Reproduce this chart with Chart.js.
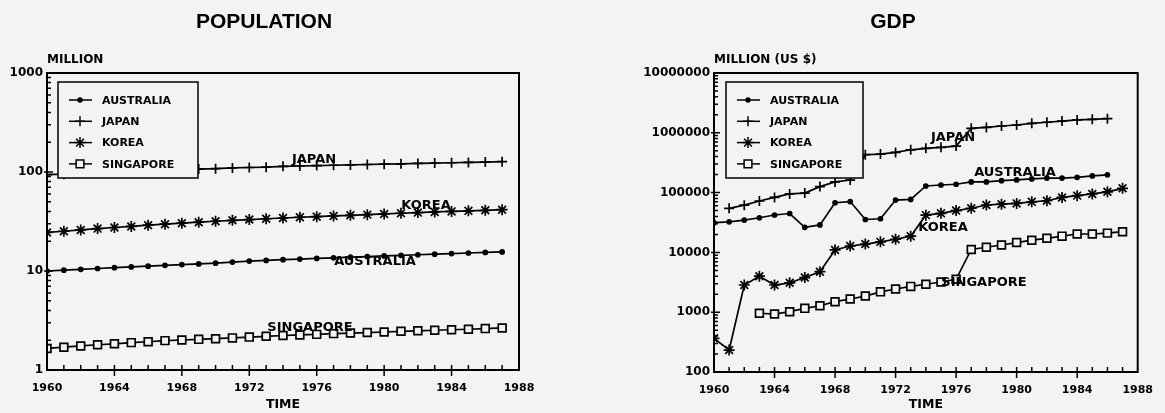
<!DOCTYPE html>
<html>
<head>
<meta charset="utf-8">
<script src="https://cdn.jsdelivr.net/npm/chart.js@4.4.1/dist/chart.umd.min.js"></script>
<style>
  html, body { margin: 0; padding: 0; background: #f3f3f3; }
  #wrap { position: relative; width: 1165px; height: 413px; }
  #popChart { position: absolute; left: 0; top: 0; }
  #gdpChart { position: absolute; left: 582px; top: 0; }
</style>
</head>
<body>
<div id="wrap">
  <canvas id="popChart" width="582" height="413"></canvas>
  <canvas id="gdpChart" width="583" height="413"></canvas>
</div>
<script>
// years shared by both charts
const years = [1960, 1961, 1962, 1963, 1964, 1965, 1966, 1967, 1968, 1969,
               1970, 1971, 1972, 1973, 1974, 1975, 1976, 1977, 1978, 1979,
               1980, 1981, 1982, 1983, 1984, 1985, 1986, 1987];
const xTickYears = [1960, 1964, 1968, 1972, 1976, 1980, 1984, 1988];

// population, million
const popAustralia = [10.0, 10.2, 10.4, 10.6, 10.8, 11.0, 11.2, 11.4, 11.6, 11.8,
                      12.0, 12.3, 12.6, 12.8, 13.0, 13.2, 13.4, 13.6, 13.8, 14.0,
                      14.2, 14.4, 14.6, 14.8, 15.0, 15.2, 15.4, 15.6];
const popJapan = [94, 95, 97, 98, 100, 101, 102, 104, 105, 107,
                  108, 110, 111, 112, 114, 115, 116, 117, 118, 119,
                  120, 121, 122, 123, 124, 125, 126, 127];
const popKorea = [24.5, 25.2, 26.0, 26.8, 27.5, 28.2, 29.0, 29.7, 30.4, 31.1,
                  31.8, 32.5, 33.1, 33.7, 34.3, 34.9, 35.4, 36.0, 36.5, 37.1,
                  37.7, 38.3, 38.9, 39.5, 40.0, 40.5, 41.0, 41.6];
const popSingapore = [1.65, 1.70, 1.75, 1.80, 1.84, 1.89, 1.93, 1.98, 2.01, 2.04,
                      2.07, 2.11, 2.15, 2.19, 2.23, 2.26, 2.29, 2.33, 2.36, 2.39,
                      2.42, 2.46, 2.49, 2.52, 2.55, 2.58, 2.62, 2.66];

// GDP, million US $
const gdpAustralia = [31400, 32400, 34700, 38000, 42200, 44700, 26300, 28800, 67600, 70800,
                      35500, 36500, 75000, 77000, 129000, 134000, 138000, 151000, 151000, 158000,
                      163000, 169000, 175000, 175000, 180000, 190000, 198000, null];
const gdpJapan = [null, 54600, 61700, 72400, 83000, 95000, 98000, 126000, 151000, 162000,
                  430000, 440000, 470000, 520000, 550000, 572000, 600000, 1190000, 1230000, 1300000,
                  1350000, 1440000, 1500000, 1570000, 1640000, 1680000, 1720000, null];
const gdpKorea = [366, 233, 2850, 4000, 2850, 3100, 3800, 4760, 11000, 12800,
                  13800, 15000, 16600, 18700, 42000, 45000, 50000, 54700, 62000, 64000,
                  66000, 70000, 73000, 83000, 89000, 95000, 103000, 118000];
const gdpSingapore = [null, null, null, 960, 930, 1020, 1160, 1280, 1500, 1660,
                      1860, 2190, 2440, 2700, 2930, 3200, 3550, 11200, 12200, 13300,
                      14600, 16000, 17200, 18700, 20300, 20300, 21000, 22200];

const seriesNames = ['AUSTRALIA', 'JAPAN', 'KOREA', 'SINGAPORE'];
const BG = '#f3f3f3';
const BOLD = 'bold 13px "DejaVu Sans"';

function pts(vals) {
  const out = [];
  vals.forEach((v, i) => { if (v !== null) out.push({x: years[i], y: v}); });
  return out;
}

const markers = [
  {pointStyle: 'circle', radius: 2, fill: '#000'},
  {pointStyle: 'cross', radius: 5, fill: '#000'},
  {pointStyle: 'star', radius: 5.5, fill: '#000'},
  {pointStyle: 'rect', radius: 5.5, fill: BG}
];

function makeSets(list) {
  return list.map((vals, i) => ({
    label: seriesNames[i],
    data: pts(vals),
    borderColor: '#000',
    borderWidth: 1.7,
    pointStyle: markers[i].pointStyle,
    pointRadius: markers[i].radius,
    pointBorderColor: '#000',
    pointBackgroundColor: markers[i].fill,
    pointBorderWidth: 1.7,
    tension: 0
  }));
}

const deco = {
  id: 'deco',
  afterDatasetsDraw(chart, args, o) {
    const ctx = chart.ctx, a = chart.chartArea;
    const xs = chart.scales.x, ys = chart.scales.y;
    ctx.save();
    ctx.strokeStyle = '#000';
    ctx.fillStyle = '#000';

    // frame
    ctx.lineWidth = 2;
    ctx.strokeRect(a.left, a.top, a.right - a.left, a.bottom - a.top);

    // inward x ticks
    ctx.lineWidth = 1.5;
    ctx.beginPath();
    for (let yr = 1961; yr < 1988; yr++) {
      const px = xs.getPixelForValue(yr);
      const major = (yr % 4 === 0);
      ctx.moveTo(px, a.bottom - 5);
      ctx.lineTo(px, a.bottom + (major ? 6 : 0));
    }
    // inward y ticks (log minor)
    for (let d = o.yMin; d < o.yMax; d *= 10) {
      for (let k = 1; k <= 9; k++) {
        if (k === 1 && d === o.yMin) continue;
        const py = ys.getPixelForValue(k * d);
        ctx.moveTo(a.left - (k === 1 ? 3 : 0), py);
        ctx.lineTo(a.left + (k === 1 ? 6 : 4), py);
      }
    }
    ctx.stroke();

    // legend box
    const lb = o.legend;
    ctx.fillStyle = BG;
    ctx.fillRect(lb.x, lb.y, lb.w, lb.h);
    ctx.lineWidth = 1.5;
    ctx.strokeRect(lb.x, lb.y, lb.w, lb.h);
    ctx.font = 'bold 11px "DejaVu Sans"';
    ctx.textBaseline = 'middle';
    ctx.textAlign = 'left';
    seriesNames.forEach((name, i) => {
      const ey = lb.y + 18 + i * 21.3;
      ctx.strokeStyle = '#000';
      ctx.lineWidth = 1.5;
      ctx.beginPath();
      ctx.moveTo(lb.x + 11, ey);
      ctx.lineTo(lb.x + 34, ey);
      ctx.stroke();
      ctx.fillStyle = markers[i].fill;
      Chart.helpers.drawPoint(ctx, {pointStyle: markers[i].pointStyle, radius: markers[i].radius, rotation: 0, borderWidth: 1.5}, lb.x + 22, ey);
      ctx.fillStyle = '#000';
      ctx.fillText(name, lb.x + 44, ey + 1);
    });

    // in-plot series labels
    ctx.font = BOLD;
    ctx.textAlign = 'center';
    o.labels.forEach(l => ctx.fillText(l.text, l.x, l.y));

    // title, unit, axis name
    ctx.font = 'bold 21px "Liberation Sans"';
    ctx.fillText(o.title, o.titleX, 22);
    ctx.font = 'bold 12px "DejaVu Sans"';
    ctx.textAlign = 'left';
    ctx.fillText(o.unit, a.left, 60);
    ctx.textAlign = 'center';
    ctx.font = 'bold 12.5px "DejaVu Sans"';
    ctx.fillText('TIME', (a.left + a.right) / 2, 405);
    ctx.restore();
  }
};

function makeChart(id, sets, cfg) {
  return new Chart(document.getElementById(id), {
    type: 'line',
    data: {datasets: makeSets(sets)},
    plugins: [deco],
    options: {
      responsive: false,
      animation: false,
      devicePixelRatio: 1,
      layout: {padding: {top: 73, left: 0, right: cfg.padRight, bottom: 0}},
      plugins: {
        legend: {display: false},
        tooltip: {enabled: false},
        deco: cfg.deco
      },
      scales: {
        x: {
          type: 'linear',
          min: 1960, max: 1988,
          afterBuildTicks: s => { s.ticks = xTickYears.map(v => ({value: v})); },
          afterFit: s => { s.height = cfg.xHeight; },
          grid: {display: false, drawTicks: false},
          border: {display: false},
          ticks: {
            autoSkip: false, maxRotation: 0, padding: 12, color: '#000',
            font: {family: 'DejaVu Sans', size: 11, weight: 'bold'},
            callback: v => String(v)
          }
        },
        y: {
          type: 'logarithmic',
          min: cfg.yMin, max: cfg.yMax,
          afterFit: s => { s.width = cfg.yWidth; },
          grid: {display: false, drawTicks: false},
          border: {display: false},
          ticks: {
            autoSkip: false, padding: 4, color: '#000',
            font: {family: 'DejaVu Sans', size: 12, weight: 'bold'},
            callback: v => {
              const l = Math.log10(v);
              return Math.abs(l - Math.round(l)) < 1e-9 ? String(Math.round(v)) : null;
            }
          }
        }
      }
    }
  });
}

makeChart('popChart', [popAustralia, popJapan, popKorea, popSingapore], {
  padRight: 63, xHeight: 43, yWidth: 47, yMin: 1, yMax: 1000,
  deco: {
    yMin: 1, yMax: 1000,
    title: 'POPULATION', titleX: 264, unit: 'MILLION',
    legend: {x: 58, y: 82, w: 140, h: 96},
    labels: [
      {text: 'JAPAN', x: 314, y: 160},
      {text: 'KOREA', x: 426, y: 206},
      {text: 'AUSTRALIA', x: 375, y: 262},
      {text: 'SINGAPORE', x: 310, y: 328}
    ]
  }
});

makeChart('gdpChart', [gdpAustralia, gdpJapan, gdpKorea, gdpSingapore], {
  padRight: 18, xHeight: 41, yWidth: 132, yMin: 100, yMax: 10000000,
  deco: {
    yMin: 100, yMax: 10000000,
    title: 'GDP', titleX: 311, unit: 'MILLION (US $)',
    legend: {x: 144, y: 82, w: 137, h: 96},
    labels: [
      {text: 'JAPAN', x: 371, y: 138},
      {text: 'AUSTRALIA', x: 433, y: 173},
      {text: 'KOREA', x: 361, y: 228},
      {text: 'SINGAPORE', x: 402, y: 283}
    ]
  }
});
</script>
</body>
</html>
